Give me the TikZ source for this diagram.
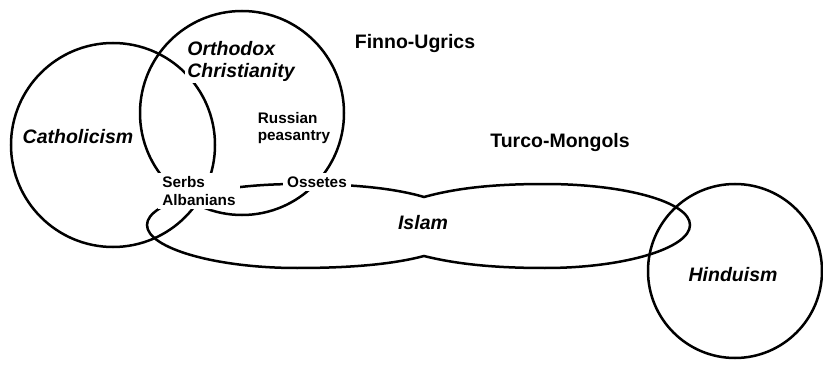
\documentclass[tikz,border=0pt]{standalone}
\usepackage{fontspec}
\setmainfont{Liberation Sans}
\begin{document}
\begin{tikzpicture}[x=1pt, y=1pt, line width=2.5pt,
    grp/.style={font=\fontsize{19.5}{22}\selectfont\bfseries, inner sep=2pt},
    rel/.style={font=\fontsize{19.5}{22}\selectfont\bfseries\itshape, align=left, fill=white, inner sep=2pt},
    lbl/.style={font=\fontsize{15.3}{17.5}\selectfont\bfseries, align=left, fill=white, inner sep=4pt}]
    \useasboundingbox (0,0) rectangle (823,365);

    % Circles of the religions
    \draw (113,220) circle (102pt);
    \draw (242,252) circle (102pt);
    \draw (735,94) circle (87pt);

    % Islam, two lobes
    \draw (424,168) .. controls (460,178) and (500,181) .. (545,181)
        .. controls (625,181) and (690,163) .. (690,140)
        .. controls (690,117) and (625,97) .. (545,97)
        .. controls (500,97) and (460,100) .. (424,109)
        .. controls (390,100) and (345,97) .. (297,97)
        .. controls (215,97) and (147,117) .. (147,140)
        .. controls (147,163) and (215,181) .. (297,181)
        .. controls (345,181) and (390,178) .. (424,168) -- cycle;

    % Religions
    \node[rel] (cath) at (78,228) {Catholicism};
    \node[rel] (orth) at (241,304) {Orthodox\\Christianity};
    \node[rel] (islam) at (423,142) {Islam};
    \node[rel] (hind) at (733,90) {Hinduism};

    % Peoples
    \node[grp] (finno) at (415,321) {Finno-Ugrics};
    \node[grp] (turco) at (560,222) {Turco-Mongols};
    \node[lbl] (russ) at (294,237) {Russian\\peasantry};
    \node[lbl] (serbs) at (199,174) {Serbs\\Albanians};
    \node[lbl] (oss) at (317,183) {Ossetes};
\end{tikzpicture}
\end{document}
